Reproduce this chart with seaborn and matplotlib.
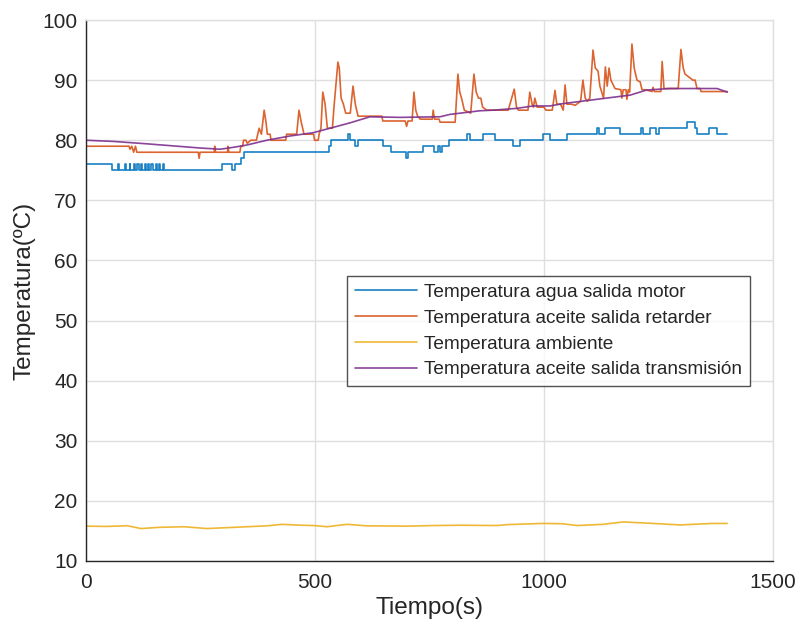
import matplotlib
matplotlib.use("Agg")
import matplotlib.pyplot as plt
import seaborn as sns
import pandas as pd

# Temperatura agua salida motor (stepped signal, change points)
agua_t = [0, 57, 70, 72, 85, 87, 95, 97, 105, 107, 112, 115, 120, 123, 128, 131,
          136, 138, 142, 146, 152, 155, 160, 162, 168, 171, 297, 318, 325, 338,
          345, 531, 535, 572, 577, 588, 594, 648, 666, 699, 703, 736, 760, 768,
          772, 778, 793, 831, 838, 867, 893, 933, 948, 998, 1013, 1050, 1116,
          1119, 1133, 1166, 1212, 1216, 1232, 1244, 1250, 1312, 1330, 1334, 1360,
          1378, 1400]
agua_v = [76, 75, 76, 75, 76, 75, 76, 75, 76, 75, 76, 75, 76, 75, 76, 75,
          76, 75, 76, 75, 76, 75, 76, 75, 76, 75, 76, 75, 76, 77,
          78, 79, 80, 81, 80, 79, 80, 79, 78, 77, 78, 79, 78, 79,
          78, 79, 80, 81, 80, 81, 80, 79, 80, 81, 80, 81, 82,
          81, 82, 81, 82, 81, 82, 81, 82, 83, 82, 81, 82,
          81, 81]

# Temperatura aceite salida retarder
retarder_t = [0, 94, 96, 100, 104, 108, 111, 245, 247, 249, 280, 281, 283, 309,
              310, 312, 336, 338, 342, 344, 349, 352, 360, 372, 378, 383, 389,
              393, 396, 402, 404, 436, 438, 460, 465, 470, 476, 497, 499, 507,
              509, 513, 517, 522, 527, 538, 542, 550, 553, 557, 562, 567, 577,
              583, 588, 594, 646, 648, 697, 700, 703, 712, 716, 720, 724, 730,
              756, 758, 761, 771, 773, 806, 812, 816, 820, 826, 840, 847, 852,
              857, 862, 866, 875, 922, 935, 940, 944, 965, 969, 974, 977, 980,
              985, 1000, 1004, 1018, 1020, 1024, 1028, 1036, 1042, 1046, 1050,
              1060, 1068, 1080, 1085, 1090, 1095, 1100, 1107, 1112, 1118, 1122,
              1130, 1134, 1138, 1142, 1146, 1155, 1168, 1170, 1173, 1179, 1181,
              1184, 1187, 1192, 1197, 1203, 1210, 1214, 1222, 1236, 1238, 1241,
              1255, 1258, 1262, 1293, 1299, 1304, 1308, 1325, 1330, 1334, 1341,
              1343, 1400]
retarder_v = [79, 79, 78.5, 79, 78, 79, 78, 78, 77, 78, 78, 79, 78, 78,
              79, 78, 78, 79, 79, 80, 80, 79.5, 80, 80, 82, 81, 85,
              83, 81, 81, 80, 80, 81, 81, 85, 83, 81, 81, 80, 80,
              81, 82, 88, 86, 82, 82, 86, 93, 92, 87, 86, 84.5, 84.5,
              89, 86, 84, 84, 83.2, 83.2, 82.3, 83.2, 83.2, 88, 85, 84, 83.5,
              83.5, 85, 83.5, 83.5, 83, 83, 91, 88, 87, 85, 84.5, 91, 88,
              87, 87, 85.5, 85, 85, 88.5, 85.5, 85, 85, 88, 86, 85.5, 87,
              85.5, 85.5, 85, 85, 86, 88.3, 86, 86, 85, 89.2, 86,
              86, 85.8, 86.5, 90, 87, 86.5, 87, 95, 92, 91.5, 89,
              87, 92.2, 89, 92, 90, 88.6, 88.4, 87, 88.4, 88.4, 86.8,
              88.4, 88, 96, 92, 90, 89.7, 88.4, 88.4, 88.1, 88.8, 88.1,
              88.1, 93.1, 88.6, 88.6, 95.1, 92, 91, 90, 90, 88.6, 88.6,
              88.1, 88.1]

# Temperatura ambiente
ambiente_t = [0, 45, 90, 120, 160, 214, 264, 323, 395, 428, 470, 498, 526, 570,
              613, 700, 760, 817, 897, 919, 998, 1040, 1072, 1129, 1173, 1238,
              1297, 1369, 1400]
ambiente_v = [15.8, 15.75, 15.87, 15.4, 15.6, 15.7, 15.4, 15.6, 15.85, 16.1, 15.95,
              15.9, 15.7, 16.1, 15.85, 15.8, 15.9, 15.95, 15.9, 16.05, 16.25, 16.2,
              15.9, 16.1, 16.5, 16.25, 16.0, 16.25, 16.25]

# Temperatura aceite salida transmisión
transmision_t = [0, 60, 133, 200, 250, 293, 320, 351, 395, 445, 496, 533, 577, 620,
                 686, 773, 795, 860, 889, 941, 976, 1013, 1042, 1115, 1188, 1224,
                 1275, 1334, 1378, 1400]
transmision_v = [80.0, 79.8, 79.4, 79.0, 78.7, 78.5, 78.8, 79.2, 80.0, 80.7, 81.25,
                 82.0, 82.9, 83.9, 83.8, 83.9, 84.3, 84.9, 85.0, 85.3, 85.7, 85.7,
                 86.1, 86.8, 87.5, 88.35, 88.6, 88.6, 88.6, 88.0]

labels = ["Temperatura agua salida motor",
          "Temperatura aceite salida retarder",
          "Temperatura ambiente",
          "Temperatura aceite salida transmisión"]
colors = ["#0072BD", "#D95319", "#EDB120", "#7E2F8E"]

x_ticks = [0, 500, 1000, 1500]
y_ticks = [10, 20, 30, 40, 50, 60, 70, 80, 90, 100]

sns.set_style("white")
plt.rcParams["font.family"] = ["Liberation Sans", "DejaVu Sans"]

axis_col = "#262626"
grid_col = "#dfdfdf"

fig = plt.figure(figsize=(7.97, 6.26), dpi=100)
ax = fig.add_axes([86 / 797, 1 - 561 / 626, 687 / 797, 541 / 626])

series = [
    (agua_t, agua_v, "steps-post"),
    (retarder_t, retarder_v, "default"),
    (ambiente_t, ambiente_v, "default"),
    (transmision_t, transmision_v, "default"),
]
for (t, v, ds), lab, col in zip(series, labels, colors):
    df = pd.DataFrame({"Tiempo": t, "Temp": v})
    sns.lineplot(data=df, x="Tiempo", y="Temp", ax=ax, color=col, lw=1.2,
                 label=lab, sort=False, estimator=None, drawstyle=ds, alpha=0.9)

ax.set_xlim(0, 1500)
ax.set_ylim(10, 100)
ax.set_xticks(x_ticks)
ax.set_yticks(y_ticks)
ax.grid(True, color=grid_col, lw=1.0)
ax.set_axisbelow(True)

for side in ["left", "bottom"]:
    ax.spines[side].set_color(axis_col)
    ax.spines[side].set_linewidth(1.0)
for side in ["top", "right"]:
    ax.spines[side].set_color(grid_col)
    ax.spines[side].set_linewidth(1.0)

ax.tick_params(axis="both", direction="in", length=3.5, width=0.8,
               colors=axis_col, labelsize=15, pad=6,
               top=False, right=False)
ax.tick_params(axis="x", pad=9)

ax.set_xlabel("Tiempo(s)", fontsize=17.5, color=axis_col, labelpad=3)
ax.set_ylabel("Temperatura(ºC)", fontsize=17.5, color=axis_col, labelpad=5)

leg = ax.legend(loc="upper left", bbox_to_anchor=(0.380, 0.527),
                borderaxespad=0, frameon=True, fancybox=False,
                fontsize=13.7, handlelength=3.3, handletextpad=0.35,
                borderpad=0.4, labelspacing=0.45)
leg.get_frame().set_edgecolor(axis_col)
leg.get_frame().set_linewidth(1.0)
for line in leg.get_lines():
    line.set_linewidth(1.2)
for txt in leg.get_texts():
    txt.set_color(axis_col)

fig.savefig("out.png", dpi=100)
